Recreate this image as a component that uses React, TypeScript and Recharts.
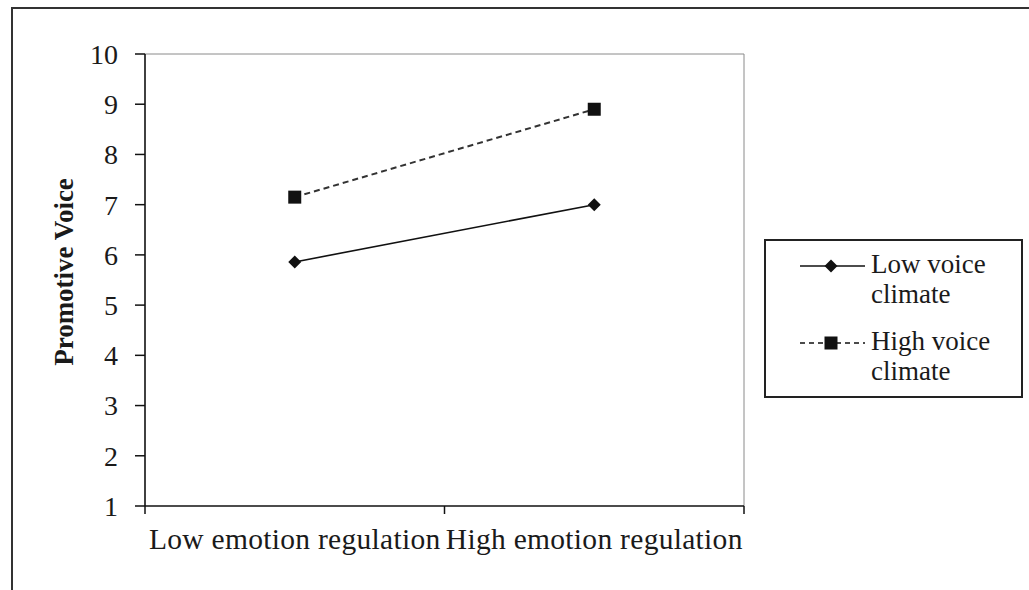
import React from "react";
import { LineChart, Line, XAxis, YAxis, Legend, ReferenceLine } from "recharts";

const categories = ["Low emotion regulation", "High emotion regulation"];
const lowVoice = [5.86, 7.0];
const highVoice = [7.15, 8.9];
const yTicks = [1, 2, 3, 4, 5, 6, 7, 8, 9, 10];
const seriesNames = ["Low voice climate", "High voice climate"];

const data = categories.map((c, i) => ({ x: i + 0.5, name: c, low: lowVoice[i], high: highVoice[i] }));

const FONT = "'Liberation Serif', 'Times New Roman', serif";
const INK = "#1a1a1a";

const DiamondDot = (props: any) => {
  const { cx, cy } = props;
  if (cx == null || cy == null) return null;
  const r = 6.5;
  return <polygon points={`${cx},${cy - r} ${cx + r},${cy} ${cx},${cy + r} ${cx - r},${cy}`} fill="#111" />;
};

const SquareDot = (props: any) => {
  const { cx, cy } = props;
  if (cx == null || cy == null) return null;
  return <rect x={cx - 6.5} y={cy - 6.5} width={13} height={13} fill="#111" />;
};

const YLabel = (props: any) => {
  const vb = props.viewBox || {};
  const x = (vb.x ?? 0) + 73;
  const y = (vb.y ?? 0) + (vb.height ?? 0) / 2 - 8;
  return (
    <text x={x} y={y} transform={`rotate(-90, ${x}, ${y})`} textAnchor="middle"
      fontFamily={FONT} fontSize={27} fontWeight="bold" fill={INK}>
      Promotive Voice
    </text>
  );
};

const LegendBox = () => (
  <div style={{ border: "2px solid #222", boxSizing: "border-box", width: 259, height: 159, padding: "8px 0 0 34px", fontFamily: FONT, fontSize: 27, color: INK, background: "#fff" }}>
    {seriesNames.map((name, i) => (
      <div key={name} style={{ display: "flex", alignItems: "flex-start", marginBottom: i === 0 ? 17 : 0 }}>
        <svg width={65} height={30} style={{ flex: "0 0 auto" }}>
          <line x1={0} x2={65} y1={17} y2={17} stroke="#111" strokeWidth={1.5} strokeDasharray={i === 1 ? "5 4" : undefined} />
          {i === 0 ? <DiamondDot cx={31} cy={17} /> : <SquareDot cx={31} cy={17} />}
        </svg>
        <div style={{ marginLeft: 6, lineHeight: "30px", width: 140 }}>{name}</div>
      </div>
    ))}
  </div>
);

export default function App() {
  return (
    <div style={{ position: "fixed", left: 0, top: 0, width: 1029, height: 590, overflow: "hidden", background: "#fff" }}>
      <div style={{ position: "absolute", left: 11, top: 7, width: 1100, height: 700, border: "2px solid #333" }} />
      <div style={{ position: "absolute", left: 0, top: 0 }}>
        <LineChart width={1029} height={590} data={data} margin={{ top: 54, right: 285, left: 0, bottom: 0 }}>
          <XAxis xAxisId={0} type="number" dataKey="x" domain={[0, 2]} ticks={[0, 1, 2]} interval={0}
            tickFormatter={() => ""} tickSize={8} height={8}
            axisLine={{ stroke: "#111", strokeWidth: 1.6 }} tickLine={{ stroke: "#111", strokeWidth: 1.5 }} />
          <XAxis xAxisId="lbl" type="number" dataKey="x" domain={[0, 2]} ticks={[0.5, 1.5]} interval={0}
            tickFormatter={(v: number) => categories[Math.floor(v)]} axisLine={false} tickLine={false}
            tickSize={0} tickMargin={14} height={76}
            tick={{ fontFamily: FONT, fontSize: 29.5, fill: INK, letterSpacing: 0.3 }} />
          <YAxis type="number" domain={[1, 10]} ticks={yTicks} interval={0} width={145} tickSize={10} tickMargin={17}
            axisLine={{ stroke: "#111", strokeWidth: 1.6 }} tickLine={{ stroke: "#111", strokeWidth: 1.5 }}
            tick={{ fontFamily: FONT, fontSize: 28, fill: INK }} label={<YLabel />} />
          <ReferenceLine y={10} stroke="#8a8a8a" strokeWidth={1} />
          <ReferenceLine x={2} stroke="#8a8a8a" strokeWidth={1} />
          <Line dataKey="low" name={seriesNames[0]} stroke="#111" strokeWidth={1.6} dot={<DiamondDot />} activeDot={false} isAnimationActive={false} />
          <Line dataKey="high" name={seriesNames[1]} stroke="#333" strokeWidth={2} strokeDasharray="6 4" dot={<SquareDot />} activeDot={false} isAnimationActive={false} />
          <Legend layout="vertical" align="center" verticalAlign="middle" content={<LegendBox />}
            wrapperStyle={{ left: 764, top: 239, width: 259, height: 159 }} />
        </LineChart>
      </div>
    </div>
  );
}
